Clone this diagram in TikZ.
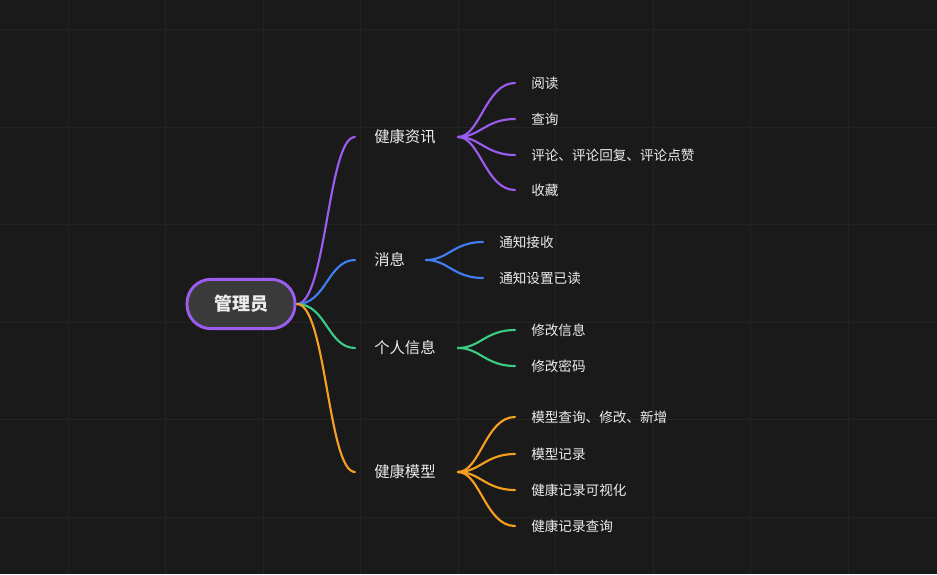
\documentclass[tikz,border=0pt]{standalone}
\usepackage{fontspec}
\setmainfont{Noto Sans CJK SC}
\definecolor{bg}{HTML}{1A1A1A}
\definecolor{gridc}{HTML}{232323}
\definecolor{cp}{HTML}{9B5CF0}
\definecolor{cb}{HTML}{3F7FF2}
\definecolor{cg}{HTML}{3CCB85}
\definecolor{co}{HTML}{F5A020}
\definecolor{txt}{HTML}{EDEDED}
\definecolor{rootfill}{HTML}{3A3A3A}
\begin{document}
\begin{tikzpicture}[x=0.75pt,y=-0.75pt,
  lbl/.style={anchor=west,inner sep=0pt,text=txt,font=\fontsize{10.2}{12}\selectfont},
  lbla/.style={anchor=west,inner sep=0pt,text=txt,font=\fontsize{11.5}{13}\selectfont},
  br/.style={line width=1.6pt,line cap=round}]
\fill[bg] (0,0) rectangle (937,574);
\useasboundingbox (0,0) rectangle (937,574);
\foreach \x in {68,165.5,263,360.5,458,555.5,653,750.5,848} \draw[gridc,line width=0.6pt] (\x,0) -- (\x,574);
\foreach \y in {29.5,127,224.5,322,419.5,517} \draw[gridc,line width=0.6pt] (0,\y) -- (937,\y);
% root
\node[draw=cp,line width=2.2pt,fill=rootfill,rounded corners=18pt,minimum width=81pt,minimum height=37pt,inner sep=0pt,text=txt,font=\bfseries\fontsize{13.5}{15}\selectfont] (root) at (241,304) {管理员};
\coordinate (r) at (297,304);
% level 1
\foreach \n/\t/\y/\c in {a/健康资讯/137/cp,b/消息/260/cb,c/个人信息/348/cg,d/健康模型/472/co}{
  \coordinate (\n in) at (355,\y);
  \node[lbla] (\n) at (374,\y) {\t};
  \draw[br,\c] (r) .. controls (326,304) and (328,\y) .. (\n in);
}
% level 2
\foreach \x/\py/\y/\t/\c in {
 458/137/83/阅读/cp, 458/137/119/查询/cp, 458/137/155/评论、评论回复、评论点赞/cp, 458/137/190/收藏/cp,
 426/260/242/通知接收/cb, 426/260/278/通知设置已读/cb,
 458/348/330/修改信息/cg, 458/348/366/修改密码/cg,
 458/472/417/模型查询、修改、新增/co, 458/472/454/模型记录/co, 458/472/490/健康记录可视化/co, 458/472/526/健康记录查询/co}{
  \pgfmathsetmacro{\xe}{\x+57}
  \pgfmathsetmacro{\xt}{\x+73}
  \coordinate (s) at (\x,\py);
  \coordinate (e) at (\xe,\y);
  \node[lbl] (leaf) at (\xt,\y) {\t};
  \draw[br,\c] (s) .. controls ([xshift=16.5pt]s) and ([xshift=-22pt]e) .. (e);
}
\end{tikzpicture}
\end{document}
